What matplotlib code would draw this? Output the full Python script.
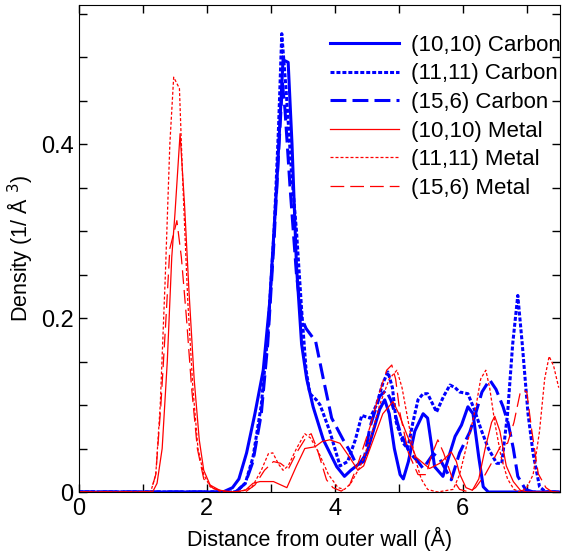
import numpy as np
import matplotlib
matplotlib.use('Agg')
import matplotlib.pyplot as plt

plt.rcParams['font.family'] = ['Liberation Sans', 'DejaVu Sans']

# (10,10) Carbon
c1010_x = [0, 2.25, 2.4, 2.5, 2.62, 2.75, 2.88, 2.98, 3.09, 3.19, 3.27, 3.33, 3.40, 3.48, 3.56, 3.66, 3.82, 4.03, 4.15, 4.25, 4.39, 4.5, 4.6, 4.7, 4.78, 4.85, 4.93, 5.02, 5.07, 5.15, 5.25, 5.38, 5.45, 5.56, 5.69, 5.8, 5.88, 5.98, 6.08, 6.16, 6.25, 6.32, 6.4, 7.5]
c1010_y = [0, 0, 0.005, 0.015, 0.045, 0.09, 0.14, 0.217, 0.351, 0.497, 0.494, 0.40, 0.26, 0.17, 0.13, 0.098, 0.06, 0.029, 0.018, 0.025, 0.033, 0.045, 0.07, 0.095, 0.106, 0.09, 0.05, 0.02, 0.015, 0.035, 0.07, 0.09, 0.085, 0.029, 0.018, 0.045, 0.064, 0.077, 0.098, 0.09, 0.04, 0.006, 0, 0]

# (11,11) Carbon
c1111_x = [0, 2.45, 2.6, 2.72, 2.85, 2.95, 3.05, 3.12, 3.17, 3.24, 3.32, 3.40, 3.48, 3.55, 3.61, 3.71, 3.77, 3.92, 4.08, 4.2, 4.32, 4.42, 4.55, 4.65, 4.75, 4.83, 4.9, 4.96, 5.07, 5.14, 5.22, 5.30, 5.38, 5.45, 5.59, 5.7, 5.80, 5.88, 5.95, 6.08, 6.18, 6.29, 6.4, 6.53, 6.61, 6.7, 6.78, 6.86, 6.93, 7.02, 7.10, 7.2, 7.3, 7.5]
c1111_y = [0, 0, 0.01, 0.04, 0.1, 0.18, 0.3, 0.42, 0.527, 0.46, 0.37, 0.30, 0.21, 0.14, 0.113, 0.106, 0.1, 0.07, 0.03, 0.035, 0.06, 0.088, 0.085, 0.1, 0.125, 0.138, 0.12, 0.08, 0.056, 0.05, 0.08, 0.106, 0.113, 0.113, 0.092, 0.11, 0.123, 0.12, 0.115, 0.113, 0.095, 0.071, 0.05, 0.033, 0.033, 0.09, 0.17, 0.226, 0.17, 0.09, 0.044, 0.006, 0, 0]

# (15,6) Carbon
c156_x = [0, 2.45, 2.6, 2.72, 2.85, 2.95, 3.05, 3.12, 3.18, 3.22, 3.3, 3.4, 3.48, 3.55, 3.70, 3.82, 3.95, 4.13, 4.25, 4.34, 4.45, 4.55, 4.7, 4.8, 4.88, 5.02, 5.17, 5.3, 5.38, 5.54, 5.64, 5.82, 5.95, 6.11, 6.2, 6.3, 6.42, 6.52, 6.63, 6.71, 6.79, 6.86, 6.98, 7.1, 7.5]
c156_y = [0, 0, 0.01, 0.035, 0.09, 0.17, 0.29, 0.39, 0.47, 0.44, 0.35, 0.25, 0.2, 0.188, 0.173, 0.13, 0.085, 0.06, 0.045, 0.031, 0.035, 0.075, 0.11, 0.117, 0.105, 0.069, 0.045, 0.035, 0.027, 0.044, 0.038, 0.014, 0.045, 0.069, 0.09, 0.115, 0.129, 0.118, 0.098, 0.079, 0.05, 0.018, 0.003, 0, 0]

# (10,10) Metal
m1010_x = [0, 1.15, 1.22, 1.3, 1.38, 1.45, 1.5, 1.58, 1.65, 1.72, 1.8, 1.88, 1.95, 2.05, 2.2, 2.4, 2.6, 2.72, 2.83, 3.04, 3.25, 3.4, 3.53, 3.69, 3.8, 3.92, 4.08, 4.23, 4.36, 4.45, 4.6, 4.75, 4.91, 5.0, 5.12, 5.27, 5.48, 5.64, 5.74, 5.82, 5.9, 5.95, 6.05, 6.15, 6.25, 6.35, 6.45, 6.5, 6.58, 6.68, 6.79, 6.9, 7.0, 7.5]
m1010_y = [0, 0, 0.01, 0.05, 0.15, 0.27, 0.32, 0.412, 0.33, 0.23, 0.13, 0.06, 0.025, 0.008, 0.002, 0, 0.002, 0.01, 0.012, 0.012, 0.005, 0.03, 0.05, 0.052, 0.058, 0.06, 0.056, 0.04, 0.025, 0.03, 0.06, 0.09, 0.104, 0.09, 0.067, 0.04, 0.027, 0.033, 0.04, 0.046, 0.035, 0.021, 0.005, 0.002, 0.015, 0.05, 0.08, 0.087, 0.07, 0.03, 0.012, 0.002, 0, 0]

# (11,11) Metal
m1111_x = [0, 1.12, 1.2, 1.27, 1.35, 1.42, 1.48, 1.57, 1.62, 1.7, 1.78, 1.86, 1.95, 2.05, 2.2, 2.5, 2.7, 2.85, 2.96, 3.03, 3.12, 3.19, 3.27, 3.4, 3.53, 3.62, 3.75, 3.9, 4.05, 4.15, 4.25, 4.4, 4.55, 4.7, 4.85, 4.97, 5.05, 5.15, 5.25, 5.35, 5.45, 5.6, 5.85, 5.95, 6.05, 6.15, 6.21, 6.28, 6.36, 6.42, 6.5, 6.6, 6.7, 6.8, 6.9, 7.0, 7.1, 7.2, 7.28, 7.35, 7.42, 7.5]
m1111_y = [0, 0, 0.02, 0.1, 0.25, 0.4, 0.477, 0.464, 0.36, 0.22, 0.12, 0.05, 0.02, 0.006, 0.001, 0, 0.005, 0.025, 0.044, 0.045, 0.032, 0.025, 0.03, 0.05, 0.067, 0.062, 0.045, 0.02, 0.005, 0.003, 0.01, 0.03, 0.06, 0.1, 0.13, 0.14, 0.12, 0.08, 0.04, 0.015, 0.003, 0, 0.003, 0.02, 0.05, 0.08, 0.1, 0.13, 0.14, 0.12, 0.08, 0.04, 0.015, 0.003, 0, 0.005, 0.02, 0.07, 0.13, 0.156, 0.145, 0.12]

# (15,6) Metal
m156_x = [0, 1.12, 1.2, 1.28, 1.36, 1.42, 1.49, 1.53, 1.6, 1.68, 1.76, 1.85, 1.95, 2.1, 2.3, 2.6, 2.75, 2.9, 3.04, 3.15, 3.27, 3.4, 3.56, 3.63, 3.72, 3.87, 3.97, 4.1, 4.23, 4.35, 4.55, 4.7, 4.81, 4.89, 4.95, 5.02, 5.15, 5.3, 5.43, 5.5, 5.61, 5.7, 5.84, 5.95, 6.1, 6.2, 6.35, 6.5, 6.6, 6.7, 6.8, 6.9, 6.95, 7.0, 7.08, 7.18, 7.3, 7.4, 7.5]
m156_y = [0, 0, 0.02, 0.1, 0.2, 0.28, 0.30, 0.312, 0.27, 0.2, 0.12, 0.05, 0.015, 0.004, 0, 0, 0.008, 0.025, 0.035, 0.033, 0.026, 0.045, 0.064, 0.067, 0.05, 0.014, 0.005, 0.001, 0.008, 0.03, 0.075, 0.115, 0.14, 0.146, 0.13, 0.09, 0.045, 0.02, 0.02, 0.04, 0.06, 0.045, 0.015, 0.003, 0, 0.005, 0.02, 0.04, 0.054, 0.056, 0.08, 0.115, 0.117, 0.115, 0.07, 0.021, 0.005, 0, 0]

fig = plt.figure(figsize=(5.66, 5.53), dpi=100)
ax = fig.add_axes([0.1396, 0.1103, 0.8498, 0.8807])

ax.plot(c1010_x, c1010_y, color='blue', lw=2.2, label='(10,10) Carbon')
ax.plot(c1111_x, c1111_y, color='blue', lw=2.2, dashes=(1.3, 0.65), label='(11,11) Carbon')
ax.plot(c156_x, c156_y, color='blue', lw=2.2, dashes=(5.2, 2.0), label='(15,6) Carbon')
ax.plot(m1010_x, m1010_y, color='red', lw=0.9, label='(10,10) Metal')
ax.plot(m1111_x, m1111_y, color='red', lw=0.9, dashes=(2.4, 1.6), label='(11,11) Metal')
ax.plot(m156_x, m156_y, color='red', lw=0.9, dashes=(11, 4.8), label='(15,6) Metal')

ax.set_xlim(0, 7.52)
ax.set_ylim(0, 0.56)
ax.set_xticks([0, 2, 4, 6])
ax.set_xticks([1, 3, 5, 7], minor=True)
ax.set_yticks([0, 0.2, 0.4])
ax.set_yticklabels(['0', '0.2', '0.4'])
ax.set_yticks(np.arange(0.05, 0.56, 0.05), minor=True)
ax.tick_params(which='both', direction='in', top=True, right=True, length=6, width=1)
ax.tick_params(labelsize=17, pad=4)

ax.set_xlabel('Distance from outer wall (Å)', fontsize=15.5, labelpad=5)
ax.set_ylabel('Density (1/ Å $^{3}$)', fontsize=15.5, labelpad=4)

ax.legend(loc='upper right', bbox_to_anchor=(1.03, 0.966), frameon=False, fontsize=16,
          handlelength=3.1, labelspacing=0.34, borderaxespad=0.2, handletextpad=0.55)

plt.savefig('out.png', dpi=100)
